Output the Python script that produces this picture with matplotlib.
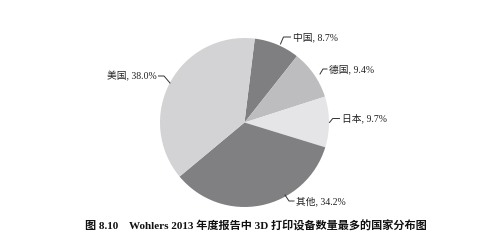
import matplotlib
matplotlib.use("Agg")
import matplotlib.pyplot as plt

plt.rcParams['font.family'] = ['Liberation Serif', 'Noto Sans CJK SC']

countries = ['中国', '德国', '日本', '其他', '美国']
shares = [8.7, 9.4, 9.7, 34.2, 38.0]
colors = ['#7f7f81', '#bdbdbf', '#e5e5e7', '#808083', '#d3d3d5']
caption = '图 8.10    Wohlers 2013 年度报告中 3D 打印设备数量最多的国家分布图'

W, H = 488, 245
cx, cy, r = 244.5, 122.5, 84.5

fig = plt.figure(figsize=(W / 100, H / 100), dpi=100)
ax = fig.add_axes([(cx - r) / W, (H - cy - r) / H, 2 * r / W, 2 * r / H])
ax.pie(shares, colors=colors, startangle=83, counterclock=False,
       wedgeprops=dict(linewidth=0))
ax.set_xlim(-1, 1)
ax.set_ylim(-1, 1)
ax.axis('off')


def d(px, py):
    # pixel -> data coords of the pie axes
    return (px - cx) / r, (cy - py) / r


# label text anchor (px) and leader polyline (px)
text_pos = [(293, 37), (329, 69), (342, 118.5), (296, 201), (157, 76)]
text_ha = ['left', 'left', 'left', 'left', 'right']
leaders = [
    [(280.5, 44), (283.5, 37), (290.5, 37)],
    [(320, 74), (323, 69), (327, 69)],
    [(329.5, 122.5), (332.7, 118.5), (339.5, 118.5)],
    [(285, 195), (289, 201), (294, 201)],
    [(158.5, 76), (164, 76), (170, 83)],
]

for name, val, (tx, ty), ha, pts in zip(countries, shares, text_pos, text_ha, leaders):
    xs, ys = zip(*[d(*p) for p in pts])
    ax.plot(xs, ys, color='#333333', lw=0.7, clip_on=False)
    x, y = d(tx, ty)
    ax.text(x, y, f'{name}, {val:.1f}%', ha=ha, va='center', fontsize=7,
            color='#222222', clip_on=False)

fig.text(256 / W, 1 - 226 / H, caption, ha='center', va='center',
         fontsize=8, fontweight='bold', color='#111111')

fig.savefig('out.png', dpi=100)
